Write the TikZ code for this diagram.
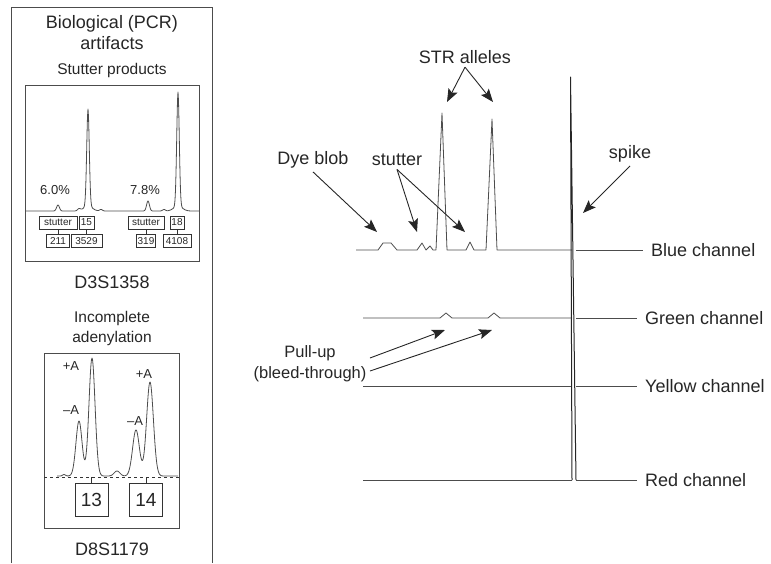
\documentclass[tikz,border=0pt]{standalone}
\usepackage{fontspec}
\setmainfont{Liberation Sans}
\usetikzlibrary{arrows.meta,positioning}

\begin{document}
\begin{tikzpicture}[
    x=1pt, y=-1pt,
    title/.style={font=\fontsize{18}{21}\selectfont, align=center, text=black!85},
    sub/.style={font=\fontsize{15.5}{20}\selectfont, align=center, text=black!85},
    tag/.style={font=\fontsize{18}{21}\selectfont, align=center, text=black!85},
    chan/.style={tag, anchor=west, inner xsep=8pt, inner ysep=2pt},
    small/.style={font=\fontsize{13}{15}\selectfont, text=black!85, inner sep=1pt},
    numbox/.style={draw=black!80, font=\fontsize{10}{11}\selectfont, inner sep=1.2pt, minimum height=13pt, text=black!85},
    bigbox/.style={draw=black!80, font=\fontsize{19}{21}\selectfont, minimum width=33pt, minimum height=33pt, inner sep=0pt, text=black!85},
    frame/.style={draw=black!70, line width=0.8pt},
    trace/.style={draw=black!70, line width=0.8pt, line join=round},
    arrow/.style={-{Stealth[length=13pt, width=10pt, inset=2.5pt]}, line width=0.9pt, black!85}
]
\useasboundingbox (0,0) rectangle (771,563);

% Left panel
\draw[frame] (11,563) |- (212,7) -- (212,563);
\node[title] (bio) at (112,33) {Biological (PCR)\\artifacts};
\node[sub] (stut) at (112,70) {Stutter products};

% Stutter products
\draw[frame] (25,85) rectangle (199,261);
\draw[trace] plot[domain=25:199, samples=349]
    (\x, {211 - 6*exp(-((\x-58)/2)^2) - 97*exp(-((\x-88)/1.8)^2) - 5*exp(-((\x-88)/6)^2)
      - 10*exp(-((\x-148)/2)^2) - 114*exp(-((\x-178)/1.8)^2) - 5*exp(-((\x-178)/6)^2)
      - 2*exp(-((\x-79)/2)^2) - 1.5*exp(-((\x-101)/2)^2) - 1.5*exp(-((\x-164)/2)^2)});
\node[small] (pctA) at (55,190) {6.0\%};
\node[small] (pctB) at (145,190) {7.8\%};
\node[numbox, minimum width=38pt] (stA) at (58,222.5) {stutter};
\node[numbox, minimum width=15pt] (alA) at (86.5,222.5) {15};
\node[numbox, minimum width=23pt] (bpA) at (58,241) {211};
\node[numbox, minimum width=31pt] (bpB) at (86.5,241) {3529};
\node[numbox, minimum width=36pt] (stB) at (146,222.5) {stutter};
\node[numbox, minimum width=14pt] (alB) at (177,222.5) {18};
\node[numbox, minimum width=19pt] (bpC) at (146,241) {319};
\node[numbox, minimum width=28pt] (bpD) at (177,241) {4108};
\draw[black!80] (stA) -- (bpA);
\draw[black!80] (alA) -- (bpB);
\draw[black!80] (stB) -- (bpC);
\draw[black!80] (alB) -- (bpD);
\node[title] (locA) at (112,282) {D3S1358};

% Incomplete adenylation
\node[sub] (inc) at (112,328) {Incomplete\\adenylation};
\draw[frame] (44,353) rectangle (179,528);
\coordinate (baseB) at (44,477);
\draw[black!80, dashed] (baseB) -- (179,477);
\draw[trace] plot[domain=57:178, samples=243]
    (\x, {476 - 55*exp(-((\x-79)/4.3)^2) - 118*exp(-((\x-92)/4.3)^2) - 5*exp(-((\x-117)/4)^2)
      - 46*exp(-((\x-136)/4.8)^2) - 94*exp(-((\x-150)/4.8)^2) - 1.5*exp(-((\x-64)/2)^2)});
\node[small] (plusA) at (71,366) {+A};
\node[small] (minusA) at (71,410) {–A};
\node[small] (plusB) at (144,374) {+A};
\node[small] (minusB) at (135,421) {–A};
\node[bigbox] (alC) at (91.5,499.5) {13};
\node[bigbox] (alD) at (146,499.5) {14};
\draw[black!80] (alC.north) -- (alC.north |- baseB);
\draw[black!80] (alD.north) -- (alD.north |- baseB);
\node[title] (locB) at (112,549) {D8S1179};

% Channels
\node[chan] (blue) at (643,250) {Blue channel};
\node[chan] (green) at (637,318) {Green channel};
\node[chan] (yellow) at (637,386) {Yellow channel};
\node[chan] (red) at (637,480) {Red channel};

\draw[trace] (356,250) -- (378,250) -- (383,243) -- (391,243) -- (397,250) -- (417,250) -- (422,243)
    -- (426,250) -- (430,246) -- (433,250) -- (436,250) -- (442,113) -- (447,250) -- (466,250)
    -- (470,242) -- (474,250) -- (486,250) -- (492,119) -- (497,250) -- (572,250);
\draw[trace] (363,318) -- (440,318) -- (446,313) -- (452,318) -- (488,318) -- (494,313) -- (500,318) -- (572,318);
\draw[trace] (363,386) -- (572,386);
\draw[trace] (363,480) -- (572,480);
\draw[trace, black!85, line width=1pt] (572,480) -- (570.5,77) -- (576,480);
\coordinate (spkB) at (576,250);
\coordinate (spkG) at (576,318);
\coordinate (spkY) at (576,386);
\coordinate (spkR) at (576,480);
\draw[trace] (spkB) -- (blue);
\draw[trace] (spkG) -- (green);
\draw[trace] (spkY) -- (yellow);
\draw[trace] (spkR) -- (red);

% Annotations
\node[tag] (str) at (465,57) {STR alleles};
\node[tag] (dye) at (313,160) {Dye blob};
\node[tag] (stutter) at (397,160) {stutter};
\node[tag] (spike) at (630,154) {spike};
\node[tag, font=\fontsize{16.5}{21}\selectfont] (pull) at (310,364) {Pull-up\\(bleed-through)};
\coordinate (pkA) at (447,102);
\coordinate (pkB) at (493,102);
\coordinate (blob) at (377,232);
\coordinate (stuA) at (417,232);
\coordinate (stuB) at (465,232);
\coordinate (spk) at (583,213);
\coordinate (puA) at (445,330);
\coordinate (puB) at (492,330);
\draw[arrow] (str.south) -- (pkA);
\draw[arrow] (str.south) -- (pkB);
\draw[arrow] (dye.south) -- (blob);
\draw[arrow] (stutter.south) -- (stuA);
\draw[arrow] (stutter.south) -- (stuB);
\draw[arrow] (spike.south) -- (spk);
\draw[arrow] ([yshift=6pt]pull.east) -- (puA);
\draw[arrow] ([yshift=-7pt]pull.east) -- (puB);

\end{tikzpicture}
\end{document}
